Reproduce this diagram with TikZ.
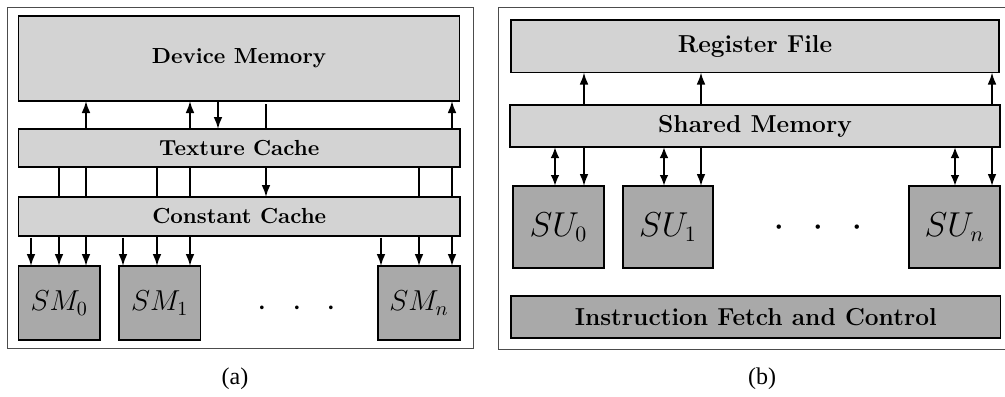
\documentclass[tikz,border=0pt]{standalone}
\usepackage{fontspec}
\newfontfamily\capfont{Liberation Serif}
\usetikzlibrary{arrows.meta}
\definecolor{boxlight}{HTML}{D3D3D3}
\definecolor{boxdark}{HTML}{A9A9A9}
\tikzset{
  % a box spanning the corners (x1,y1) and (x2,y2)
  span/.style n args={4}{minimum width={(#3-#1)*0.5pt}, minimum height={(#4-#2)*0.5pt},
                         at={({(#1+#3)/2},{(#2+#4)/2})}},
  panelframe/.style={draw=black!70, line width=0.5pt},
  lbox/.style={draw, line width=0.8pt, fill=boxlight, inner sep=0pt, outer sep=0pt},
  dbox/.style={draw, line width=0.8pt, fill=boxdark, inner sep=0pt, outer sep=0pt},
  fonta/.style={font=\fontsize{10.9}{13}\selectfont\bfseries},
  fontb/.style={font=\fontsize{12.25}{14}\selectfont\bfseries},
  matha/.style={font=\fontsize{14}{16}\selectfont},
  mathb/.style={font=\fontsize{16}{18}\selectfont},
  dotsfonta/.style={font=\fontsize{18}{20}\selectfont},
  dotsfontb/.style={font=\fontsize{20}{22}\selectfont},
  arr/.style={-{Latex[length=6pt,width=4.4pt]}, line width=0.9pt},
  dblarr/.style={{Latex[length=5.5pt,width=4.4pt]}-{Latex[length=5.5pt,width=4.4pt]}, line width=1.2pt},
  wire/.style={line width=0.9pt},
  caption/.style={font=\capfont\fontsize{12}{14}\selectfont},
}
\begin{document}
\begin{tikzpicture}[x=0.5pt, y=-0.5pt]
\useasboundingbox (0,0) rectangle (1005,396);
\clip (0,0) rectangle (1005,396);

% ---------- panel (a): device level ----------
\draw[panelframe] (7,7) rectangle (473,348);
\node[lbox, fonta, span={18.5}{16}{459.5}{101}] (dm) {Device Memory};
\node[lbox, fonta, span={18.5}{129}{460}{167}] (tc) {Texture Cache};
\node[lbox, fonta, span={18.5}{197}{460}{235.7}] (cc) {Constant Cache};
\node[dbox, matha, span={18.5}{266}{100}{340}] (sm0) {$SM_0$};
\node[dbox, matha, span={119}{266}{200.5}{340}] (sm1) {$SM_1$};
\node[dbox, matha, span={378}{266}{460}{340}] (smn) {$SM_n$};
\node[dotsfonta, anchor=base] (dotsa) at (297,316) {$\cdot\hspace{8.5pt}\cdot\hspace{8.5pt}\cdot$};

% column positions of the wires
\coordinate (xa1) at (31,0);
\coordinate (xa2) at (59,0);
\coordinate (xa3) at (86,0);
\coordinate (xa4) at (123,0);
\coordinate (xa5) at (157,0);
\coordinate (xa6) at (190,0);
\coordinate (xa7) at (218,0);
\coordinate (xa8) at (266,0);
\coordinate (xa9) at (381,0);
\coordinate (xa10) at (419,0);
\coordinate (xa11) at (452,0);

% texture cache <-> device memory
\foreach \c in {xa3,xa6,xa11}
  \draw[arr] (tc.north -| \c) -- (dm.south -| \c);
\draw[arr] (dm.south -| xa7) -- (tc.north -| xa7);
\draw[wire, shorten <=1.5pt] (dm.south -| xa8) -- (tc.north -| xa8);

% constant cache <-> texture cache
\foreach \c in {xa2,xa3,xa5,xa6,xa10,xa11}
  \draw[wire] (tc.south -| \c) -- (cc.north -| \c);
\draw[arr] (tc.south -| xa8) -- (cc.north -| xa8);

% constant cache -> multiprocessors
\draw[arr, shorten <=1pt] (cc.south -| xa1) -- (sm0.north -| xa1);
\draw[arr] (cc.south -| xa2) -- (sm0.north -| xa2);
\draw[arr] (cc.south -| xa3) -- (sm0.north -| xa3);
\draw[arr, shorten <=1pt] (cc.south -| xa4) -- (sm1.north -| xa4);
\draw[arr] (cc.south -| xa5) -- (sm1.north -| xa5);
\draw[arr] (cc.south -| xa6) -- (sm1.north -| xa6);
\draw[arr, shorten <=1pt] (cc.south -| xa9) -- (smn.north -| xa9);
\draw[arr] (cc.south -| xa10) -- (smn.north -| xa10);
\draw[arr] (cc.south -| xa11) -- (smn.north -| xa11);

\node[caption] (capa) at (235,379) {(a)};

% ---------- panel (b): multiprocessor level ----------
\draw[panelframe] (498,7) rectangle (1012,349);
\node[lbox, fontb, span={511}{20}{999}{72.5}] (rf) {Register File};
\node[lbox, fontb, span={510}{105}{1000}{147}] (shm) {Shared Memory};
\node[dbox, mathb, span={513}{186}{604}{268}] (su0) {$SU_0$};
\node[dbox, mathb, span={623}{186}{713}{268}] (su1) {$SU_1$};
\node[dbox, mathb, span={909}{186}{1000}{268}] (sun) {$SU_n$};
\node[dbox, fontb, span={511}{296}{1000.5}{338}] (ifc) {Instruction Fetch and Control};
\node[dotsfontb, anchor=base] (dotsb) at (818,237) {$\cdot\hspace{9.2pt}\cdot\hspace{9.2pt}\cdot$};

\coordinate (xb1) at (555,0);
\coordinate (xb2) at (584,0);
\coordinate (xb3) at (664,0);
\coordinate (xb4) at (701,0);
\coordinate (xb5) at (955,0);
\coordinate (xb6) at (992,0);

% shared memory -> register file
\foreach \c in {xb2,xb4,xb6}
  \draw[arr] (shm.north -| \c) -- (rf.south -| \c);

% shared memory <-> scalar units
\draw[dblarr] (shm.south -| xb1) -- (su0.north -| xb1);
\draw[arr] (shm.south -| xb2) -- (su0.north -| xb2);
\draw[dblarr] (shm.south -| xb3) -- (su1.north -| xb3);
\draw[arr] (shm.south -| xb4) -- (su1.north -| xb4);
\draw[dblarr] (shm.south -| xb5) -- (sun.north -| xb5);
\draw[arr] (shm.south -| xb6) -- (sun.north -| xb6);

\node[caption] (capb) at (762,379) {(b)};
\end{tikzpicture}
\end{document}
